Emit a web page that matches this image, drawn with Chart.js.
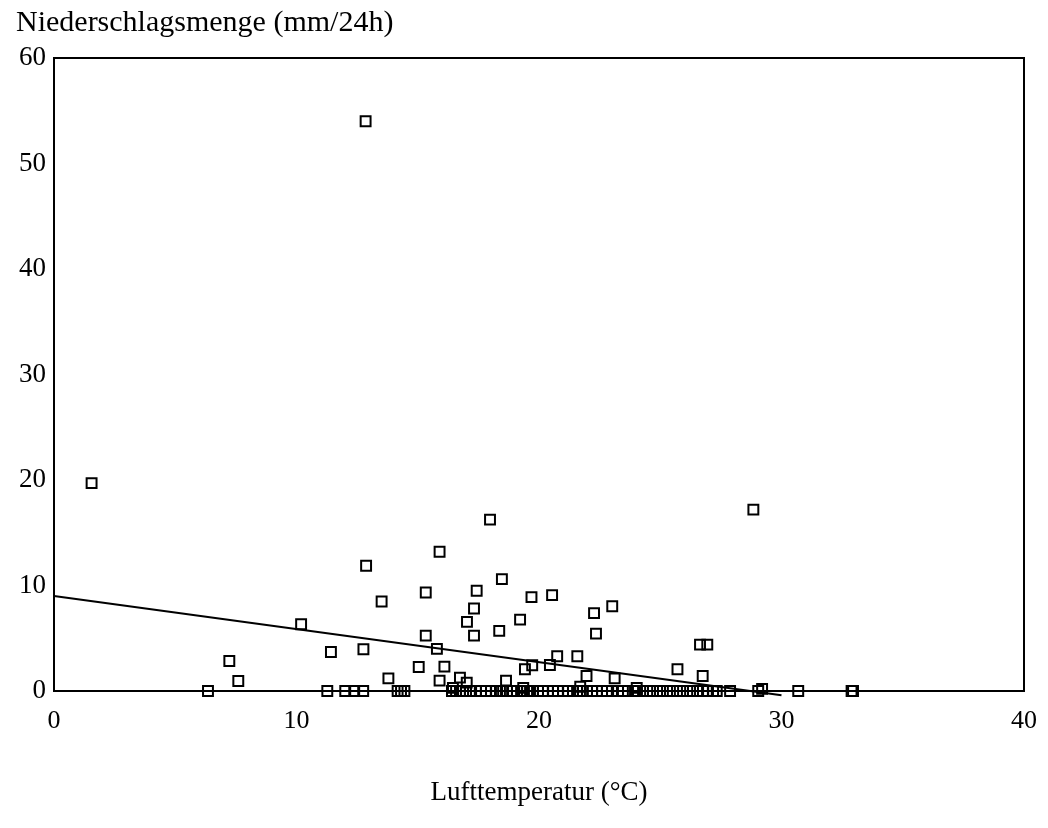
<!DOCTYPE html>
<html>
<head>
<meta charset="utf-8">
<script src="https://cdn.jsdelivr.net/npm/chart.js@4"></script>
<style>
  html, body { margin: 0; padding: 0; background: #fff; }
  #wrap { width: 1048px; height: 828px; }
</style>
</head>
<body>
<div id="wrap"><canvas id="chart" width="1048" height="828"></canvas></div>
<script>
// Lufttemperatur (°C) und Niederschlagsmenge (mm/24h), paarweise
const temperatur = [
  1.55, 6.35, 7.23, 7.6, 10.19, 11.27, 11.42, 12.01, 12.38, 12.75,
  12.76, 12.85, 12.87, 13.51, 13.79, 14.17, 14.31, 14.45, 15.04, 15.33,
  15.33, 15.79, 15.9, 15.9, 16.1, 16.41, 16.45, 16.58, 16.74, 16.74,
  16.87, 16.99, 17.02, 17.03, 17.15, 17.32, 17.32, 17.4, 17.43, 17.61,
  17.81, 17.98, 18.02, 18.23, 18.36, 18.39, 18.47, 18.52, 18.64, 18.68,
  18.89, 19.09, 19.22, 19.26, 19.35, 19.38, 19.42, 19.51, 19.63, 19.69,
  19.72, 19.75, 19.96, 20.16, 20.37, 20.45, 20.54, 20.58, 20.75, 20.78,
  20.99, 21.2, 21.4, 21.57, 21.58, 21.69, 21.7, 21.81, 21.96, 21.98,
  22.19, 22.27, 22.35, 22.39, 22.6, 22.8, 23.01, 23.02, 23.12, 23.26,
  23.46, 23.67, 23.96, 24.03, 24.04, 24.29, 24.58, 24.87, 25.11, 25.4,
  25.69, 25.71, 25.94, 26.23, 26.52, 26.64, 26.75, 26.76, 26.94, 26.97,
  27.18, 27.33, 27.88, 28.84, 29.04, 29.2, 30.69, 32.89, 32.95
];
const niederschlag = [
  19.7, 0, 2.85, 0.95, 6.33, 0, 3.7, 0, 0, 0,
  3.96, 54.0, 11.87, 8.48, 1.2, 0, 0, 0, 2.28, 9.34,
  5.25, 3.99, 13.2, 0.98, 2.31, 0, 0.3, 0, 0, 1.27,
  0, 0, 0.79, 6.55, 0, 7.82, 5.25, 0, 9.5, 0,
  0, 16.24, 0, 0, 5.7, 0, 10.6, 0, 0.98, 0,
  0, 0, 6.77, 0, 0.3, 0, 2.06, 0, 0, 8.9,
  2.44, 0, 0, 0, 0, 2.47, 9.09, 0, 3.29, 0,
  0, 0, 0, 0, 3.29, 0, 0.4, 0, 1.42, 0,
  0, 7.38, 5.44, 0, 0, 0, 0, 8.04, 1.2, 0,
  0, 0, 0, 0.3, 0, 0, 0, 0, 0, 0,
  0, 2.06, 0, 0, 0, 4.4, 1.42, 0, 4.4, 0,
  0, 0, 0, 17.19, 0, 0.2, 0, 0, 0
];
// Trendlinie (Anfang / Ende)
const trendX = [0, 30];
const trendY = [9.0, -0.4];

const xTicks = [0, 10, 20, 30, 40];
const yTicks = [0, 10, 20, 30, 40, 50, 60];

const punkte = temperatur.map((t, i) => ({ x: t, y: niederschlag[i] }));
const trend = trendX.map((t, i) => ({ x: t, y: trendY[i] }));

const schrift = "'Liberation Serif', 'Times New Roman', serif";

// Rahmen oben und rechts
const rahmen = {
  id: 'rahmen',
  afterDatasetsDraw(chart) {
    const a = chart.chartArea;
    const ctx = chart.ctx;
    ctx.save();
    ctx.strokeStyle = '#000';
    ctx.lineWidth = 2;
    ctx.beginPath();
    ctx.moveTo(a.left, a.top);
    ctx.lineTo(a.right, a.top);
    ctx.lineTo(a.right, a.bottom);
    ctx.stroke();
    ctx.restore();
  }
};

new Chart(document.getElementById('chart'), {
  type: 'scatter',
  data: {
    datasets: [
      {
        label: 'Niederschlag',
        data: punkte,
        pointStyle: 'rect',
        pointRadius: 7,
        pointHoverRadius: 7,
        pointBorderWidth: 2,
        borderColor: '#000',
        backgroundColor: 'rgba(255,255,255,0)',
        clip: false
      },
      {
        type: 'line',
        label: 'Trend',
        data: trend,
        borderColor: '#000',
        borderWidth: 2,
        pointRadius: 0,
        fill: false,
        clip: false
      }
    ]
  },
  options: {
    responsive: false,
    animation: false,
    layout: { padding: { left: 16, right: 24, top: 0, bottom: 0 } },
    plugins: {
      legend: { display: false },
      tooltip: { enabled: false },
      title: {
        display: true,
        text: 'Niederschlagsmenge (mm/24h)',
        align: 'start',
        color: '#000',
        font: { family: schrift, size: 30, weight: 'normal' },
        padding: { top: 5, bottom: 17 }
      }
    },
    scales: {
      x: {
        type: 'linear',
        min: 0,
        max: 40,
        afterBuildTicks: (s) => { s.ticks = xTicks.map(v => ({ value: v })); },
        afterFit: (s) => { s.height = 137; },
        grid: { display: false, drawTicks: true, tickLength: 7, tickColor: '#000', tickWidth: 2 },
        border: { display: true, color: '#000', width: 2 },
        ticks: { color: '#000', font: { family: schrift, size: 26 }, padding: 8, maxRotation: 0 },
        title: {
          display: true,
          text: 'Lufttemperatur (°C)',
          color: '#000',
          font: { family: schrift, size: 27 },
          padding: { top: 0, bottom: 19 }
        }
      },
      y: {
        type: 'linear',
        min: 0,
        max: 60,
        afterBuildTicks: (s) => { s.ticks = yTicks.map(v => ({ value: v })); },
        afterFit: (s) => { s.width = 38; },
        grid: { display: false, drawTicks: true, tickLength: 6, tickColor: '#000', tickWidth: 2 },
        border: { display: true, color: '#000', width: 2 },
        ticks: { color: '#000', font: { family: schrift, size: 27 }, padding: 2 }
      }
    }
  },
  plugins: [rahmen]
});
</script>
</body>
</html>
